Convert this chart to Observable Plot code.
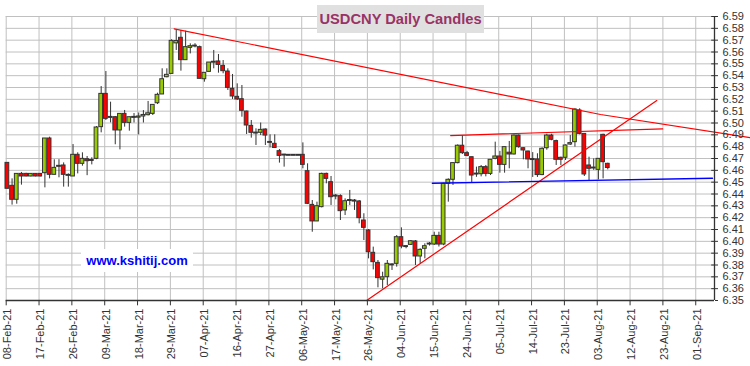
<!DOCTYPE html>
<html><head><meta charset="utf-8">
<script src="https://cdn.jsdelivr.net/npm/d3@7"></script>
<script src="https://cdn.jsdelivr.net/npm/@observablehq/plot@0.6"></script>
<style>
body{margin:0;background:#fff;}
#wrap{position:relative;width:750px;height:366px;font-family:Arial,"Liberation Sans",sans-serif;}
#wrap svg{position:absolute;left:0;top:0;}
#title{position:absolute;left:317px;top:5px;width:167px;height:28px;background:#e0e0e0;color:#993366;font-weight:bold;font-size:14.7px;line-height:28px;text-align:center;white-space:nowrap;}
#site{position:absolute;left:81px;top:249px;width:112px;height:23px;background:#fff;color:#0000ff;font-weight:bold;font-size:13px;line-height:23px;text-align:center;white-space:nowrap;}
</style></head><body>
<div id="wrap"><div id="title">USDCNY Daily Candles</div><div id="site">www.kshitij.com</div></div>
<script>
// Trading-day candles (index 0 = 08-Feb-21)
const open = [6.4663,6.4469,6.4351,6.4570,6.4570,6.4548,6.4570,6.4570,6.4576,6.4869,
6.4562,6.4635,6.4641,6.4560,6.4548,6.4731,6.4655,6.4694,6.4687,6.4697,
6.4965,6.5246,6.5050,6.5049,6.4937,6.5077,6.5001,6.5050,6.5045,6.5055,
6.5066,6.5077,6.5167,6.5241,6.5387,6.5415,6.5673,6.5720,6.5531,6.5635,
6.5648,6.5641,6.5370,6.5432,6.5513,6.5520,6.5483,6.5435,6.5289,6.5221,
6.5201,6.5097,6.4976,6.4917,6.4917,6.4945,6.4838,6.4824,6.4762,6.4731,
6.4727,6.4727,6.4727,6.4731,6.4593,6.4308,6.4168,6.4289,6.4570,6.4500,
6.4385,6.4382,6.4261,6.4345,6.4345,6.4337,6.4176,6.4092,6.3903,6.3818,
6.3676,6.3697,6.3800,6.3810,6.4035,6.3956,6.3970,6.3999,6.3872,6.3937,
6.3975,6.3973,6.4046,6.3973,6.4486,6.4520,6.4661,6.4808,6.4745,6.4711,
6.4570,6.4567,6.4627,6.4570,6.4697,6.4717,6.4646,6.4749,6.4734,6.4894,
6.4787,6.4759,6.4692,6.4692,6.4560,6.4787,6.4894,6.4847,6.4706,6.4706,
6.4818,6.4838,6.5106,6.4908,6.4641,6.4621,6.4604,6.4900,6.4655];
const high = [6.4663,6.4528,6.4570,6.4582,6.4575,6.4572,6.4572,6.4572,6.4869,6.4880,
6.4689,6.4690,6.4663,6.4570,6.4818,6.4748,6.4748,6.4717,6.4706,6.4970,
6.5308,6.5435,6.5176,6.5055,6.5077,6.5106,6.5049,6.5080,6.5085,6.5105,
6.5182,6.5153,6.5252,6.5458,6.5458,6.5703,6.5787,6.5782,6.5776,6.5669,
6.5670,6.5650,6.5424,6.5511,6.5613,6.5579,6.5528,6.5458,6.5410,6.5331,
6.5317,6.5100,6.5021,6.4951,6.5000,6.4950,6.4900,6.4900,6.4776,6.4735,
6.4729,6.4729,6.4729,6.4832,6.4655,6.4345,6.4331,6.4576,6.4576,6.4548,
6.4396,6.4393,6.4359,6.4430,6.4353,6.4345,6.4233,6.4100,6.3951,6.3838,
6.3739,6.3838,6.3810,6.4049,6.4114,6.3960,6.4007,6.4007,6.3937,6.3979,
6.3990,6.4077,6.4077,6.4491,6.4528,6.4661,6.4815,6.4894,6.4760,6.4711,
6.4627,6.4641,6.4641,6.4689,6.4838,6.4760,6.4796,6.4844,6.4899,6.4899,
6.4790,6.4762,6.4750,6.4740,6.4790,6.4905,6.4905,6.4855,6.4711,6.4815,
6.4894,6.5120,6.5120,6.4910,6.4711,6.4697,6.4697,6.4905,6.4660];
const low = [6.4444,6.4306,6.4314,6.4475,6.4545,6.4545,6.4545,6.4545,6.4452,6.4528,
6.4562,6.4537,6.4458,6.4458,6.4548,6.4570,6.4635,6.4555,6.4646,6.4690,
6.4917,6.5021,6.5001,6.4816,6.4773,6.4965,6.4931,6.5000,6.4900,6.5000,
6.5060,6.5063,6.5156,6.5241,6.5382,6.5415,6.5613,6.5438,6.5531,6.5584,
6.5635,6.5373,6.5345,6.5432,6.5458,6.5421,6.5416,6.5275,6.5199,6.5190,
6.5049,6.4903,6.4872,6.4810,6.4894,6.4810,6.4789,6.4785,6.4661,6.4627,
6.4725,6.4725,6.4725,6.4613,6.4311,6.4077,6.4168,6.4283,6.4486,6.4303,
6.4351,6.4176,6.4218,6.4303,6.4261,6.4148,6.4007,6.3852,6.3759,6.3607,
6.3599,6.3627,6.3754,6.3782,6.3937,6.3937,6.3965,6.3796,6.3811,6.3852,
6.3960,6.3965,6.3952,6.3963,6.4331,6.4472,6.4655,6.4734,6.4715,6.4490,
6.4541,6.4545,6.4545,6.4556,6.4689,6.4576,6.4576,6.4613,6.4730,6.4787,
6.4689,6.4613,6.4540,6.4540,6.4555,6.4770,6.4850,6.4641,6.4640,6.4683,
6.4810,6.4796,6.4900,6.4548,6.4514,6.4599,6.4519,6.4528,6.4604];
const close = [6.4444,6.4351,6.4570,6.4548,6.4548,6.4570,6.4548,6.4548,6.4869,6.4562,
6.4621,6.4633,6.4562,6.4555,6.4731,6.4655,6.4697,6.4677,6.4680,6.4962,
6.5246,6.5035,6.5045,6.4937,6.5077,6.5001,6.5049,6.5045,6.5055,6.5068,
6.5082,6.5153,6.5238,6.5370,6.5407,6.5694,6.5693,6.5531,6.5641,6.5649,
6.5652,6.5373,6.5424,6.5511,6.5514,6.5491,6.5438,6.5297,6.5224,6.5199,
6.5103,6.4979,6.4917,6.4913,6.4942,6.4894,6.4834,6.4789,6.4722,6.4727,
6.4727,6.4727,6.4727,6.4646,6.4317,6.4168,6.4297,6.4570,6.4528,6.4373,
6.4380,6.4255,6.4339,6.4345,6.4336,6.4196,6.4114,6.3908,6.3824,6.3689,
6.3696,6.3810,6.3802,6.4035,6.3956,6.3955,6.4001,6.3872,6.3928,6.3959,
6.3979,6.4046,6.3973,6.4486,6.4520,6.4661,6.4808,6.4745,6.4722,6.4556,
6.4567,6.4627,6.4570,6.4689,6.4717,6.4646,6.4796,6.4734,6.4894,6.4796,
6.4768,6.4692,6.4690,6.4560,6.4782,6.4894,6.4858,6.4689,6.4689,6.4810,
6.4830,6.5114,6.4908,6.4565,6.4613,6.4618,6.4697,6.4669,6.4620];

const xLabels = ["08-Feb-21","17-Feb-21","26-Feb-21","09-Mar-21","18-Mar-21","29-Mar-21","07-Apr-21","16-Apr-21","27-Apr-21","06-May-21","17-May-21","26-May-21","04-Jun-21","15-Jun-21","24-Jun-21","05-Jul-21","14-Jul-21","23-Jul-21","03-Aug-21","12-Aug-21","23-Aug-21","01-Sep-21"];
const xTickPos = [0,7,14,21,28,35,42,49,56,63,70,77,84,91,98,105,112,119,126,133,140,147];
const yTicks = [6.35,6.36,6.37,6.38,6.39,6.40,6.41,6.42,6.43,6.44,6.45,6.46,6.47,6.48,6.49,6.50,6.51,6.52,6.53,6.54,6.55,6.56,6.57,6.58,6.59];

// Trendlines (trading-day index, price)
const resistDown = [{x:35.8,y:6.5796},{x:126.7,y:6.5072},{x:158.7,y:6.4875}];
const resistFlat = [{x:94.75,y:6.4894},{x:139.95,y:6.4950}];
const supportUp = [{x:76.84,y:6.35},{x:138.7,y:6.519}];
const supportFlat = [{x:90.85,y:6.4491},{x:150.57,y:6.4533}];

const candles = open.map((o, i) => ({i, o, h: high[i], l: low[i], c: close[i]}));
const OFF = 0.25, HW = 0.4, MINB = 0.0008;
const bodyLo = d => Math.abs(d.o - d.c) < MINB ? (d.o + d.c) / 2 - MINB / 2 : Math.min(d.o, d.c);
const bodyHi = d => Math.abs(d.o - d.c) < MINB ? (d.o + d.c) / 2 + MINB / 2 : Math.max(d.o, d.c);

const X_MAX = 151;
const chart = Plot.plot({
  width: 750, height: 366,
  marginLeft: 5.7, marginRight: 36, marginTop: 16, marginBottom: 66,
  x: {domain: [0, X_MAX], axis: null},
  y: {domain: [6.35, 6.59]},
  style: {fontFamily: "Arial, 'Liberation Sans', sans-serif", fontSize: "11px", color: "#333", background: "white", overflow: "visible"},
  marks: [
    Plot.ruleY(yTicks.slice(1), {stroke: "#c0c0c0", strokeWidth: 1}),
    Plot.ruleX(xTickPos, {stroke: "#c0c0c0", strokeWidth: 1}),
    Plot.ruleX(candles, {x: d => d.i + OFF, y1: "l", y2: "h", stroke: "#333", strokeWidth: 1}),
    Plot.rect(candles.filter(d => d.c > d.o), {x1: d => d.i + OFF - HW, x2: d => d.i + OFF + HW, y1: bodyLo, y2: bodyHi, fill: "#99cc00", stroke: "#333", strokeWidth: 1}),
    Plot.rect(candles.filter(d => !(d.c > d.o)), {x1: d => d.i + OFF - HW, x2: d => d.i + OFF + HW, y1: bodyLo, y2: bodyHi, fill: "#ff0000", stroke: "#333", strokeWidth: 1}),
    Plot.line(resistDown, {x: "x", y: "y", stroke: "#ff0000", strokeWidth: 1.2}),
    Plot.line(resistFlat, {x: "x", y: "y", stroke: "#ff0000", strokeWidth: 1.2}),
    Plot.line(supportUp, {x: "x", y: "y", stroke: "#ff0000", strokeWidth: 1.2}),
    Plot.line(supportFlat, {x: "x", y: "y", stroke: "#0000ff", strokeWidth: 1.4}),
    Plot.ruleY([6.35], {stroke: "#333", strokeWidth: 1.3}),
    Plot.ruleX([X_MAX], {stroke: "#333", strokeWidth: 1.3}),
    Plot.ruleX(xTickPos, {y1: 6.35, y2: 6.35 - 0.0045, stroke: "#333", strokeWidth: 1}),
    Plot.text(xTickPos, {x: d => d, y: 6.35, text: (d, k) => xLabels[k], rotate: -90, textAnchor: "end", lineAnchor: "middle", dy: 8, dx: 1.5, fontSize: 11, fill: "#333"}),
    Plot.ruleY(yTicks, {x1: X_MAX - 0.6, x2: X_MAX, stroke: "#333"}),
    Plot.axisY({ticks: yTicks, anchor: "right", tickSize: 3, tickPadding: 5, tickFormat: d => d.toFixed(2), label: null, fontSize: 11, stroke: "#333"})
  ]
});
const wrap = document.getElementById("wrap");
wrap.prepend(chart);
</script>
</body></html>
